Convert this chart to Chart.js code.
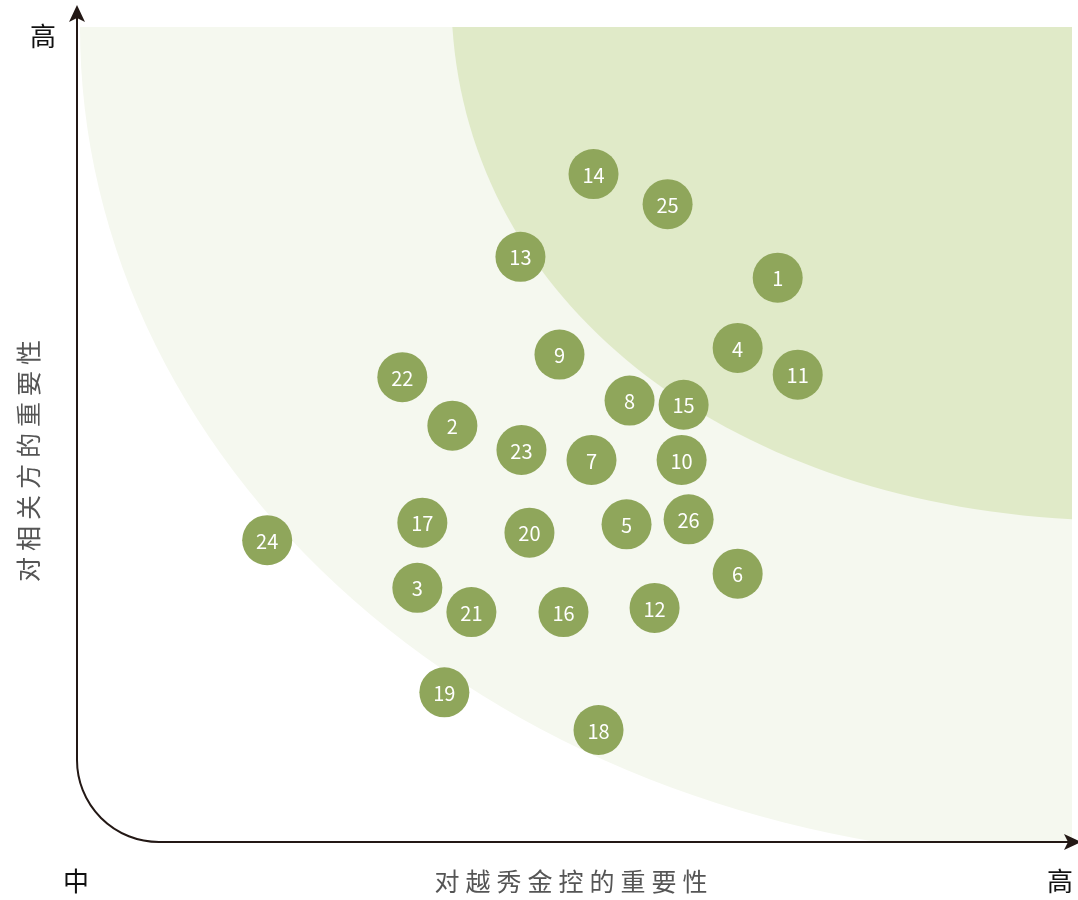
<!DOCTYPE html>
<html>
<head>
<meta charset="utf-8">
<script src="https://cdn.jsdelivr.net/npm/chart.js@4.4.0/dist/chart.umd.min.js"></script>
<style>
  html, body { margin: 0; padding: 0; background: #fff; }
  #wrap { width: 1078px; height: 900px; }
</style>
</head>
<body>
<div id="wrap"><canvas id="matrix"></canvas></div>
<script>
// issue numbers and their scores (0-100 on both axes)
var issues = [1, 2, 3, 4, 5, 6, 7, 8, 9, 10, 11, 12, 13, 14, 15, 16, 17, 18, 19, 20, 21, 22, 23, 24, 25, 26];
var companyScore = [70.0, 37.5, 34.0, 66.0, 54.9, 66.0, 51.4, 55.2, 48.2, 60.4, 72.0, 57.7, 44.3,
  51.6, 60.6, 48.6, 34.5, 52.1, 36.7, 45.2, 39.4, 32.5, 44.4, 19.0, 59.0, 61.1];
var stakeholderScore = [67.5, 49.8, 30.4, 59.1, 38.0, 32.1, 45.7, 52.8, 58.3, 45.7, 55.9, 28.0, 70.0,
  79.9, 52.3, 27.5, 38.2, 13.4, 17.9, 37.0, 27.5, 55.6, 46.9, 36.1, 76.3, 38.6];

var xTitle = "对越秀金控的重要性";
var yTitle = "对相关方的重要性";
var lowLabel = "中";
var highLabel = "高";

var points = [];
for (let i = 0; i < issues.length; i++) {
  points.push({ x: companyScore[i], y: stakeholderScore[i], n: issues[i] });
}

var bubbleGreen = "#8fa65b";
var lightZone = "#f5f8ef";
var darkZone = "#e0eac8";
var axisColor = "#231815";

var backdrop = {
  id: "backdrop",
  beforeDatasetsDraw: function (chart) {
    var ctx = chart.ctx;
    var xs = chart.scales.x;
    var ys = chart.scales.y;
    var left = xs.getPixelForValue(0.3);
    var right = xs.getPixelForValue(99.4);
    var top = ys.getPixelForValue(97.5);
    var bottom = ys.getPixelForValue(0);

    // outer zone
    ctx.save();
    ctx.beginPath();
    ctx.rect(left, top, right - left, bottom - top);
    ctx.clip();
    ctx.fillStyle = lightZone;
    ctx.beginPath();
    ctx.ellipse(right, top, right - left, (bottom - top) * 1.02, 0, 0, Math.PI * 2);
    ctx.fill();

    // inner zone
    ctx.fillStyle = darkZone;
    ctx.beginPath();
    ctx.moveTo(xs.getPixelForValue(37.5), top);
    ctx.bezierCurveTo(
      xs.getPixelForValue(39.3), ys.getPixelForValue(64.8),
      xs.getPixelForValue(64.2), ys.getPixelForValue(40.9),
      right, ys.getPixelForValue(38.6)
    );
    ctx.lineTo(right, top);
    ctx.closePath();
    ctx.fill();
    ctx.restore();

    // axes with rounded corner
    var ax = xs.getPixelForValue(0);
    var ay = ys.getPixelForValue(0);
    var r = 82;
    ctx.save();
    ctx.strokeStyle = axisColor;
    ctx.lineWidth = 2;
    ctx.beginPath();
    ctx.moveTo(ax, 14);
    ctx.lineTo(ax, ay - r);
    ctx.arcTo(ax, ay, ax + r, ay, r);
    ctx.lineTo(1070, ay);
    ctx.stroke();

    ctx.fillStyle = axisColor;
    // up arrow
    ctx.beginPath();
    ctx.moveTo(ax, 5);
    ctx.lineTo(ax + 8, 22);
    ctx.lineTo(ax, 18);
    ctx.lineTo(ax - 8, 22);
    ctx.closePath();
    ctx.fill();
    // right arrow
    ctx.beginPath();
    ctx.moveTo(1081, ay);
    ctx.lineTo(1064, ay - 8);
    ctx.lineTo(1068, ay);
    ctx.lineTo(1064, ay + 8);
    ctx.closePath();
    ctx.fill();
    ctx.restore();
  }
};

var labels = {
  id: "labels",
  afterDatasetsDraw: function (chart) {
    var ctx = chart.ctx;
    var meta = chart.getDatasetMeta(0);
    ctx.save();
    ctx.fillStyle = "#ffffff";
    ctx.font = "20px 'Noto Sans CJK SC', 'Noto Sans', sans-serif";
    ctx.textAlign = "center";
    ctx.textBaseline = "middle";
    meta.data.forEach(function (pt, i) {
      ctx.fillText(String(issues[i]), pt.x, pt.y + 1);
    });

    // corner labels
    ctx.fillStyle = "#111";
    ctx.font = "26px 'Noto Sans CJK SC', sans-serif";
    ctx.fillText(highLabel, 43, 36);
    ctx.fillText(lowLabel, 76, 881);
    ctx.fillText(highLabel, 1060, 881);

    // axis titles
    ctx.fillStyle = "#555";
    ctx.font = "25px 'Noto Sans CJK SC', sans-serif";
    ctx.letterSpacing = "6px";
    ctx.fillText(xTitle, 574, 881);
    ctx.translate(28, 461);
    ctx.rotate(-Math.PI / 2);
    ctx.letterSpacing = "6px";
    ctx.fillText(yTitle, 3, 0);
    ctx.restore();
  }
};

var matrixctx = document.getElementById("matrix");
var matrixChart = new Chart(matrixctx, {
  type: "scatter",
  data: {
    datasets: [
      {
        data: points,
        backgroundColor: bubbleGreen,
        borderWidth: 0,
        pointRadius: 25,
        pointHoverRadius: 25,
      },
    ],
  },
  options: {
    responsive: true,
    maintainAspectRatio: false,
    animation: false,
    layout: { autoPadding: false, padding: { left: 77, right: 0, top: 6, bottom: 58 } },
    scales: {
      x: { type: "linear", min: 0, max: 100, display: false },
      y: { type: "linear", min: 0, max: 100, display: false },
    },
    plugins: {
      legend: { display: false },
      tooltip: { enabled: false },
    },
  },
  plugins: [backdrop, labels],
});
</script>
</body>
</html>
